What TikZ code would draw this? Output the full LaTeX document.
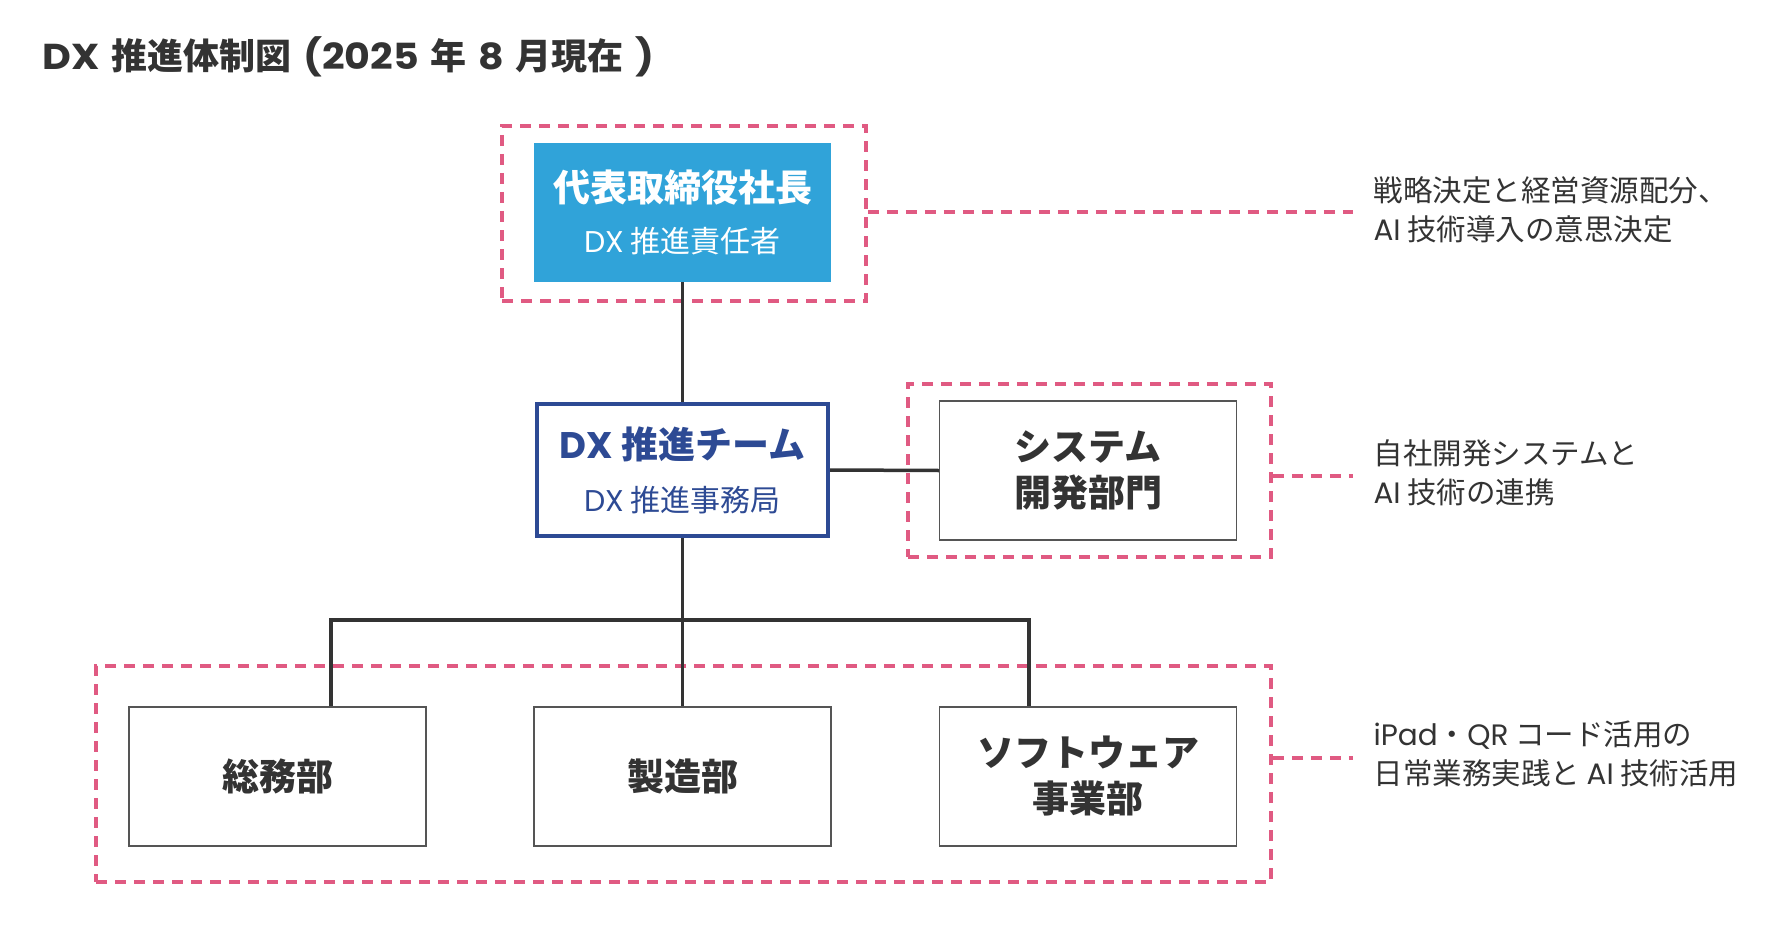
\documentclass[tikz,border=0pt]{standalone}
\usepackage{fontspec}
\setmainfont{Noto Sans CJK JP}
\newfontfamily\lat{Poppins}
\newfontfamily\latw{Poppins}[FakeStretch=1.1,WordSpace=1.4]
\newfontfamily\heavy{Noto Sans CJK JP Black}
\definecolor{ink}{HTML}{333333}
\definecolor{skyblue}{HTML}{30A3D9}
\definecolor{navy}{HTML}{2D4A94}
\definecolor{pinkdash}{HTML}{E05A82}
\definecolor{boxline}{HTML}{555555}
\newcommand{\fsz}[2]{\fontsize{#1}{#2}\selectfont}
\begin{document}
\begin{tikzpicture}[x=1pt,y=-1pt,
  box/.style={draw=boxline, line width=1.5pt, fill=white, minimum width=297pt, minimum height=139pt, inner sep=0pt, align=center, text=ink, font=\fsz{37}{46}\heavy},
  topbox/.style={fill=skyblue, minimum width=297pt, minimum height=139pt, inner sep=0pt, align=center, text=white, font=\fsz{30}{51}},
  teambox/.style={draw=navy, line width=4pt, fill=white, minimum width=291pt, minimum height=132pt, inner sep=0pt, align=center, text=navy, font=\fsz{30}{53}},
  grp/.style={draw=pinkdash, line width=3.5pt, dash pattern=on 11pt off 8pt, inner sep=0pt},
  conn/.style={draw=ink, line width=3.5pt},
  dconn/.style={draw=pinkdash, line width=3.5pt, dash pattern=on 11pt off 8pt},
  note/.style={anchor=west, align=left, text=ink, font=\fsz{29.5}{39}},
  ttl/.style={anchor=west, text=ink, font=\fsz{36}{40}\bfseries}
]
\useasboundingbox (0,0) rectangle (1790,936);

% title
\node[ttl] (title) at (39,57) {{\latw\bfseries DX\ }推進体制図{\latw\bfseries\ (2025\ }年{\latw\bfseries\ 8\ }月現在{\latw\bfseries\ )}};

% dashed groups
\node[grp, minimum width=364pt, minimum height=175pt] (g1) at (684,213.5) {};
\node[grp, minimum width=363pt, minimum height=173pt] (g2) at (1089.5,470.5) {};
\node[grp, minimum width=1175pt, minimum height=216pt] (g3) at (683.5,774) {};

% boxes
\node[topbox] (ceo) at (682.5,212.5) {{\heavy\fsz{37}{51}代表取締役社長}\\{\lat DX} 推進責任者};
\node[teambox] (team) at (682.5,470) {{\heavy\fsz{37}{53}{\lat\bfseries DX} 推進チーム}\\{\lat DX} 推進事務局};
\node[box] (sys) at (1088,470.5) {システム\\開発部門};
\node[box] (b1) at (277.5,776.5) {総務部};
\node[box] (b2) at (682.5,776.5) {製造部};
\node[box] (b3) at (1088,776.5) {ソフトウェア\\事業部};

% connectors
\draw[conn] (ceo.south) -- (team.north);
\draw[conn] (team.east) -- (sys.west);
\coordinate (hl) at (331,620);
\coordinate (hr) at (1029,620);
\draw[conn] (team.south) -- (b2.north);
\draw[conn] (b1.north -| hl) -- (hl) -- (hr) -- (b3.north -| hr);

% notes
\coordinate (e1) at (1353,212);
\coordinate (e2) at (1353,476);
\coordinate (e3) at (1353,758);
\draw[dconn] (g1.east |- e1) -- (e1);
\draw[dconn] (g2.east |- e2) -- (e2);
\draw[dconn] (g3.east |- e3) -- (e3);
\node[note] (n1) at (1370,210) {戦略決定と経営資源配分、\\{\lat AI} 技術導入の意思決定};
\node[note] (n2) at (1370,473) {自社開発システムと\\{\lat AI} 技術の連携};
\node[note] (n3) at (1370,754) {{\lat iPad}・{\lat QR} コード活用の\\日常業務実践と {\lat AI} 技術活用};
\end{tikzpicture}
\end{document}
